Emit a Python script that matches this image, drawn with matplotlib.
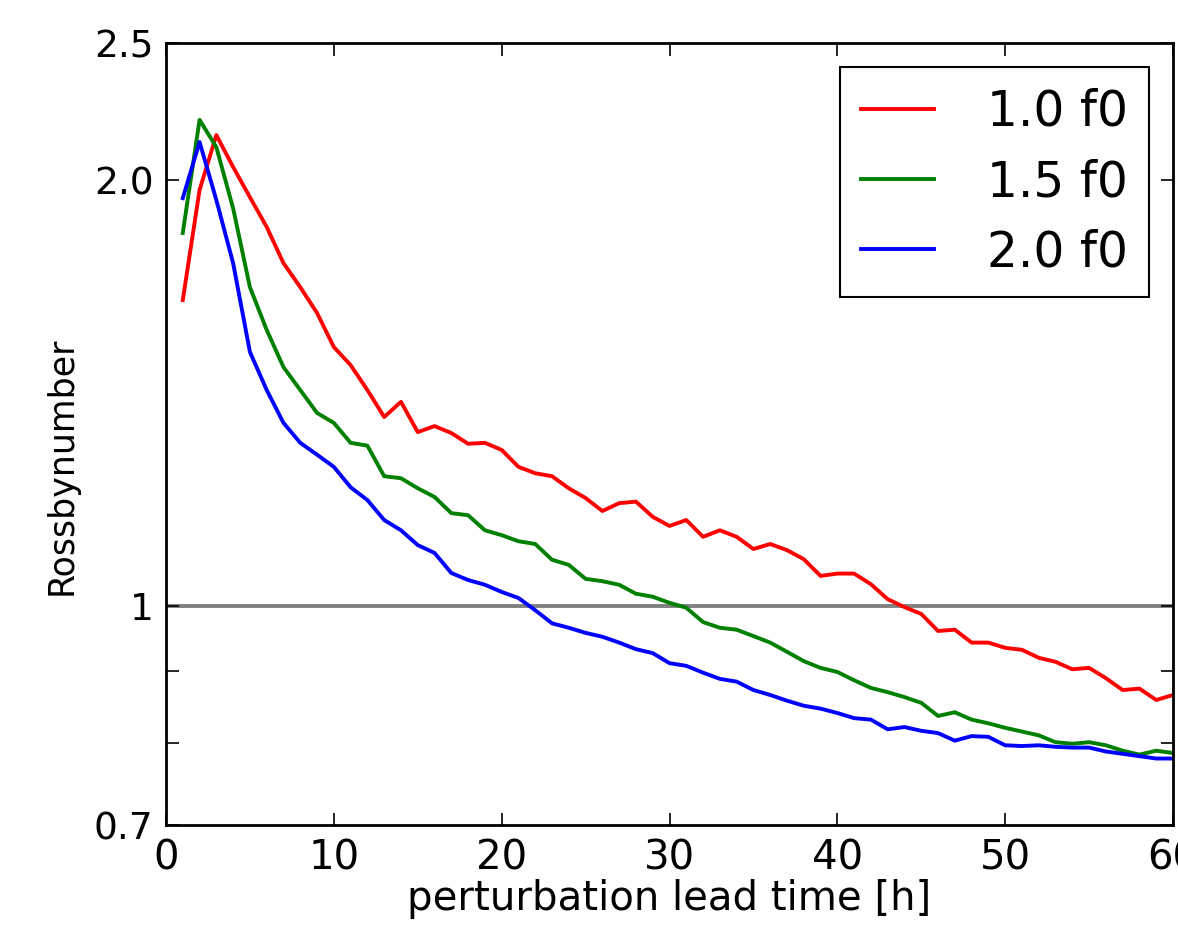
import matplotlib
matplotlib.use("Agg")
import matplotlib.pyplot as plt
from matplotlib.ticker import FixedLocator, FixedFormatter, NullLocator

hours = list(range(1, 61))

ro_10f0 = [1.645, 1.968, 2.152, 2.043, 1.945, 1.853, 1.747, 1.680, 1.611, 1.524,
           1.480, 1.421, 1.360, 1.394, 1.327, 1.340, 1.325, 1.302, 1.304, 1.289,
           1.254, 1.241, 1.235, 1.211, 1.192, 1.167, 1.182, 1.185, 1.156, 1.139,
           1.150, 1.119, 1.131, 1.119, 1.097, 1.106, 1.095, 1.079, 1.050, 1.054,
           1.054, 1.036, 1.011, 0.998, 0.987, 0.960, 0.962, 0.942, 0.942, 0.934,
           0.931, 0.919, 0.913, 0.902, 0.904, 0.889, 0.872, 0.874, 0.858, 0.865]

ro_15f0 = [1.835, 2.206, 2.110, 1.910, 1.680, 1.567, 1.475, 1.421, 1.369, 1.347,
           1.304, 1.298, 1.235, 1.231, 1.211, 1.194, 1.163, 1.159, 1.131, 1.122,
           1.111, 1.106, 1.078, 1.069, 1.045, 1.041, 1.035, 1.020, 1.015, 1.005,
           0.997, 0.974, 0.965, 0.962, 0.952, 0.942, 0.928, 0.914, 0.904, 0.898,
           0.886, 0.875, 0.869, 0.862, 0.854, 0.836, 0.841, 0.831, 0.826, 0.820,
           0.815, 0.810, 0.801, 0.799, 0.801, 0.797, 0.790, 0.785, 0.790, 0.787]

ro_20f0 = [1.942, 2.128, 1.936, 1.747, 1.512, 1.421, 1.347, 1.304, 1.279, 1.254,
           1.213, 1.188, 1.150, 1.131, 1.104, 1.090, 1.055, 1.043, 1.035, 1.023,
           1.013, 0.993, 0.972, 0.965, 0.957, 0.951, 0.942, 0.932, 0.926, 0.911,
           0.907, 0.897, 0.888, 0.884, 0.872, 0.865, 0.857, 0.850, 0.846, 0.840,
           0.833, 0.831, 0.818, 0.821, 0.816, 0.813, 0.803, 0.809, 0.808, 0.797,
           0.796, 0.797, 0.795, 0.794, 0.794, 0.789, 0.786, 0.783, 0.780, 0.780]

series_labels = ["1.0 f0", "1.5 f0", "2.0 f0"]
series_colors = ["#ff0000", "#008000", "#0000ff"]

y_ticks = [0.7, 0.8, 0.9, 1.0, 2.0, 2.5]
y_ticklabels = ["0.7", "", "", "1", "2.0", "2.5"]
x_ticks = [0, 10, 20, 30, 40, 50, 60]
x_ticklabels = ["0", "10", "20", "30", "40", "50", "60"]

fig = plt.figure(figsize=(11.78, 9.34), dpi=100)
ax = fig.add_axes([166/1178, 1 - 825/934, (1173 - 166)/1178, (825 - 43)/934])

for vals, lab, col in zip([ro_10f0, ro_15f0, ro_20f0], series_labels, series_colors):
    ax.plot(hours, vals, color=col, lw=2.8, label=lab)

ax.axhline(1.0, color="#808080", lw=2.8, zorder=1)

ax.set_yscale("log")
ax.set_ylim(0.7, 2.5)
ax.set_xlim(0, 60)
ax.yaxis.set_major_locator(FixedLocator(y_ticks))
ax.yaxis.set_major_formatter(FixedFormatter(y_ticklabels))
ax.yaxis.set_minor_locator(NullLocator())
ax.set_xticks(x_ticks)
ax.set_xticklabels(x_ticklabels)

ax.tick_params(axis="both", which="both", direction="in", top=True, right=True,
               length=9, width=1.2, colors="black")
ax.tick_params(axis="y", labelsize=27, pad=9)
ax.tick_params(axis="x", labelsize=29, pad=10)
for sp in ax.spines.values():
    sp.set_linewidth(2)

ax.set_xlabel("perturbation lead time [h]", fontsize=29, labelpad=0)
ax.set_ylabel("Rossbynumber", fontsize=25)
ax.yaxis.set_label_coords(-0.087, 0.46)

leg = ax.legend(loc="upper right", fontsize=35, handlelength=1.5, handletextpad=1.1,
                labelspacing=0.46, borderpad=0.42, borderaxespad=0.5,
                fancybox=False, framealpha=1, edgecolor="black")
leg.get_frame().set_linewidth(1.5)

fig.savefig("out.png", dpi=100)
